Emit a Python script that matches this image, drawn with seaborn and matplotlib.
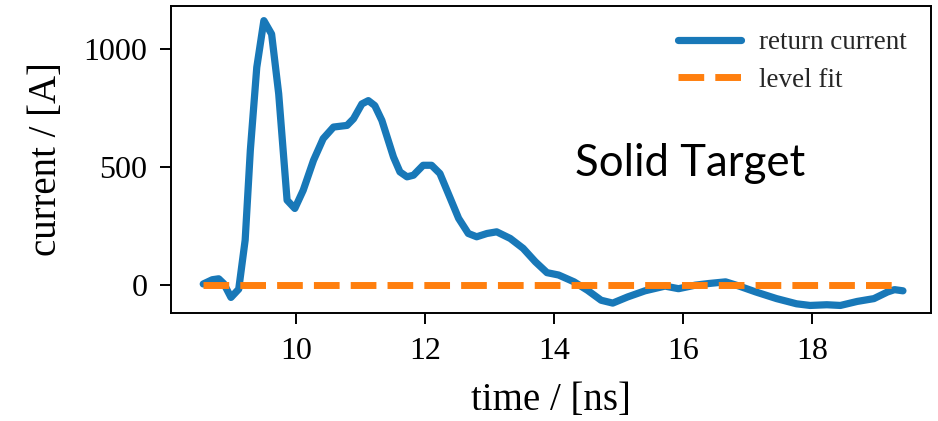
import matplotlib
matplotlib.use("Agg")
import matplotlib.pyplot as plt
import seaborn as sns
import pandas as pd

# ---- data ----
time_ns = [8.56, 8.70, 8.80, 8.88, 8.99, 9.11, 9.21, 9.29, 9.39, 9.50, 9.62, 9.73,
           9.86, 9.98, 10.11, 10.27, 10.42, 10.58, 10.79, 10.89, 11.02, 11.12, 11.22,
           11.33, 11.51, 11.61, 11.72, 11.82, 11.97, 12.10, 12.23, 12.36, 12.52, 12.67,
           12.80, 12.96, 13.11, 13.32, 13.52, 13.71, 13.89, 14.07, 14.31, 14.52, 14.73,
           14.91, 15.14, 15.41, 15.72, 15.93, 16.19, 16.40, 16.66, 16.87, 17.13, 17.45,
           17.76, 17.97, 18.23, 18.44, 18.70, 18.96, 19.17, 19.28, 19.41]
current_A = [4, 22, 26, 5, -53, -18, 190, 570, 922, 1120, 1063, 810,
             359, 324, 401, 528, 620, 669, 676, 704, 767, 781, 760,
             697, 542, 479, 458, 465, 507, 507, 472, 387, 282, 218,
             204, 218, 225, 197, 155, 98, 52, 42, 13, -23, -65,
             -77, -51, -25, -5, -16, -1, 6, 13, -5, -30, -58,
             -80, -87, -84, -87, -70, -58, -30, -20, -25]
fit_time_ns = [8.56, 19.37]
fit_level_A = [0, 0]

x_ticks = [10, 12, 14, 16, 18]
y_ticks = [0, 500, 1000]

series_labels = ["return current", "level fit"]
annotation = "Solid Target"

sns.set_theme(style="ticks")
plt.rcParams["font.family"] = ["Liberation Serif", "DejaVu Serif"]

df_ret = pd.DataFrame({"time": time_ns, "current": current_A})
df_fit = pd.DataFrame({"time": fit_time_ns, "current": fit_level_A})

fig = plt.figure(figsize=(9.38, 4.21), dpi=100)
ax = fig.add_axes([171 / 938, 1 - 313 / 421, (931 - 171) / 938, (313 - 6) / 421])

sns.lineplot(data=df_ret, x="time", y="current", sort=False, ax=ax,
             color="#1878b8", linewidth=5.2, label=series_labels[0])
sns.lineplot(data=df_fit, x="time", y="current", sort=False, ax=ax,
             color="#ff7f0e", linewidth=5.0, linestyle="--", label=series_labels[1])

ax.set_xlim(8.06, 19.845)
ax.set_ylim(-119, 1182)
ax.set_xticks(x_ticks)
ax.set_yticks(y_ticks)

for s in ax.spines.values():
    s.set_linewidth(1.4)
    s.set_color("black")
ax.tick_params(axis="both", length=8, width=1.4, color="black", labelsize=23,
               labelcolor="black")
ax.tick_params(axis="x", pad=9)
ax.tick_params(axis="y", pad=9)

ax.set_xlabel("time / [ns]", fontsize=28, color="black", labelpad=12)
ax.set_ylabel("current / [A]", fontsize=28, color="black")
ax.yaxis.set_label_coords(-0.139, 0.5)

leg = ax.legend(loc="upper right", frameon=False, fontsize=19.5,
                handlelength=2.3, handletextpad=0.67, labelspacing=0.45)

fig.text(575 / 938, 1 - 176 / 421, annotation, fontsize=31.5, family=["Lato", "DejaVu Sans"],
         ha="left", va="baseline", color="black")

fig.savefig("out.png", dpi=100)
